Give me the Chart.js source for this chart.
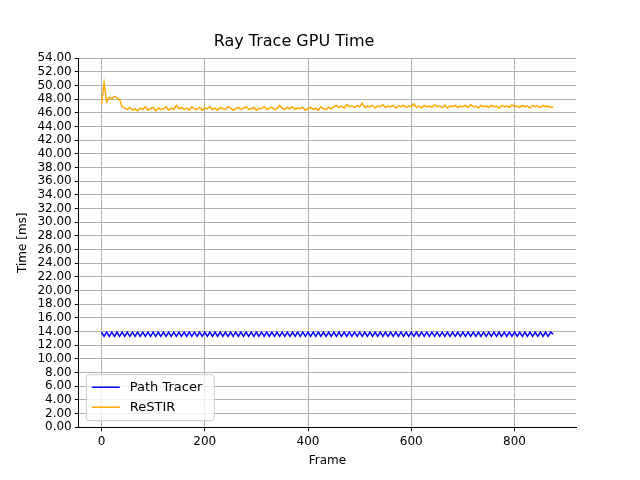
<!DOCTYPE html>
<html><head><meta charset="utf-8">
<script src="https://cdn.jsdelivr.net/npm/chart.js@4/dist/chart.umd.min.js"></script>
<style>html,body{margin:0;background:#fff}#wrap{width:640px;height:480px}</style>
</head><body><div id="wrap"><canvas id="c" width="640" height="480"></canvas></div>
<script>
// frames sampled every 5
const frames = Array.from({length: 176}, (_, i) => i * 5);
const pathTracer = [
13.9,13.3,13.9,13.3,13.9,13.3,13.9,13.3,13.9,13.3,13.9,13.3,13.9,13.3,13.9,13.3,13.9,13.3,13.9,13.3,
13.9,13.3,13.9,13.3,13.9,13.3,13.9,13.3,13.9,13.3,13.9,13.3,13.9,13.3,13.9,13.3,13.9,13.3,13.9,13.3,
13.9,13.3,13.9,13.3,13.9,13.3,13.9,13.3,13.9,13.3,13.9,13.3,13.9,13.3,13.9,13.3,13.9,13.3,13.9,13.3,
13.9,13.3,13.9,13.3,13.9,13.3,13.9,13.3,13.9,13.3,13.9,13.3,13.9,13.3,13.9,13.3,13.9,13.3,13.9,13.3,
13.9,13.3,13.9,13.3,13.9,13.3,13.9,13.3,13.9,13.3,13.9,13.3,13.9,13.3,13.9,13.3,13.9,13.3,13.9,13.3,
13.9,13.3,13.9,13.3,13.9,13.3,13.9,13.3,13.9,13.3,13.9,13.3,13.9,13.3,13.9,13.3,13.9,13.3,13.9,13.3,
13.9,13.3,13.9,13.3,13.9,13.3,13.9,13.3,13.9,13.3,13.9,13.3,13.9,13.3,13.9,13.3,13.9,13.3,13.9,13.3,
13.9,13.3,13.9,13.3,13.9,13.3,13.9,13.3,13.9,13.3,13.9,13.3,13.9,13.3,13.9,13.3,13.9,13.3,13.9,13.3,
13.9,13.3,13.9,13.3,13.9,13.3,13.9,13.3,13.9,13.3,13.9,13.3,13.9,13.3,13.9,13.6
];
const restir = [
47.3,50.4,47.6,48.3,48.1,48.4,48.2,48.0,
46.9,46.7,46.5,46.8,46.4,46.6,46.3,46.7,46.5,46.9,46.4,46.6,46.8,46.3,46.7,46.5,46.6,46.9,46.4,46.7,46.5,47.1,
46.6,46.8,46.5,46.7,46.4,46.9,46.6,46.5,46.8,46.4,46.7,46.6,46.9,46.5,46.7,46.4,46.8,46.6,46.5,46.9,
46.7,46.4,46.6,46.8,46.5,46.7,46.9,46.5,46.6,46.8,46.4,46.7,46.6,46.9,46.5,46.7,46.8,46.5,46.6,47.1,
46.7,46.5,46.8,46.6,46.9,46.5,46.7,46.6,46.8,46.4,46.6,46.8,46.5,46.7,46.4,46.9,46.6,46.5,46.8,46.6,
46.9,47.1,46.8,47.0,46.7,47.2,46.9,47.0,46.8,47.1,46.9,47.4,46.8,47.0,46.9,47.1,46.7,47.0,46.9,47.2,
46.8,47.0,46.9,47.1,46.7,47.0,46.9,47.1,46.8,47.0,46.9,47.3,46.8,47.0,46.7,47.1,46.9,47.0,46.8,47.2,
46.9,47.0,46.8,47.1,46.7,47.0,46.9,47.1,46.8,47.0,46.9,47.1,46.8,47.2,46.9,47.0,46.7,47.1,46.9,47.0,
46.8,47.1,46.9,47.0,46.7,47.1,46.9,47.0,46.8,47.2,46.9,47.0,46.8,47.1,46.9,47.0,46.7,47.1,46.9,47.0,
46.8,47.1,46.9,47.0,46.8,46.9
];
const seriesNames = ['Path Tracer', 'ReSTIR'];
const seriesColors = ['#0000ff', '#ffa500'];
const xTicks = [0, 200, 400, 600, 800];

const font = {family: 'DejaVu Sans', size: 12};
const legendBox = {
  id: 'legendBox',
  afterDraw(chart) {
    const ctx = chart.ctx, a = chart.chartArea;
    const x = a.left + 7, y = a.bottom - 53, w = 128, h = 46;
    ctx.save();
    ctx.fillStyle = 'rgba(255,255,255,0.8)';
    ctx.strokeStyle = '#cccccc';
    ctx.lineWidth = 1;
    ctx.beginPath(); ctx.roundRect(x + 0.5, y + 0.5, w, h, 3); ctx.fill(); ctx.stroke();
    ctx.font = '13px "DejaVu Sans"';
    ctx.textBaseline = 'middle';
    seriesNames.forEach((n, i) => {
      const yy = y + 13 + i * 20;
      ctx.strokeStyle = seriesColors[i]; ctx.lineWidth = 1.5;
      ctx.beginPath(); ctx.moveTo(x + 6, yy); ctx.lineTo(x + 34, yy); ctx.stroke();
      ctx.fillStyle = '#000'; ctx.fillText(n, x + 44, yy);
    });
    ctx.restore();
  }
};

new Chart(document.getElementById('c'), {
  type: 'line',
  data: {
    datasets: [
      {label: seriesNames[0], data: frames.map((f, i) => ({x: f, y: pathTracer[i]})), borderColor: seriesColors[0], borderWidth: 1.5, pointRadius: 0},
      {label: seriesNames[1], data: frames.map((f, i) => ({x: f, y: restir[i]})), borderColor: seriesColors[1], borderWidth: 1.5, pointRadius: 0}
    ]
  },
  options: {
    responsive: false, animation: false,
    layout: {padding: {left: 12, right: 64, top: 0, bottom: 8}},
    plugins: {
      legend: {display: false},
      tooltip: {enabled: false},
      title: {display: true, text: 'Ray Trace GPU Time', color: '#000', font: {family: 'DejaVu Sans', size: 16, weight: 'normal'}, padding: {top: 32, bottom: 7}}
    },
    scales: {
      x: {
        type: 'linear', min: -44, max: 919,
        afterBuildTicks: s => { s.ticks = xTicks.map(v => ({value: v})); },
        title: {display: true, text: 'Frame', color: '#000', font, padding: {top: 2}},
        ticks: {color: '#000', font, maxRotation: 0},
        grid: {color: '#b0b0b0', tickColor: '#000', tickLength: 4},
        border: {color: '#000'}
      },
      y: {
        min: 0, max: 54,
        title: {display: true, text: 'Time [ms]', color: '#000', font},
        ticks: {stepSize: 2, autoSkip: false, color: '#000', font, callback: v => v.toFixed(2)},
        grid: {color: '#b0b0b0', tickColor: '#000', tickLength: 4},
        border: {color: '#000'}
      }
    }
  },
  plugins: [legendBox]
});
</script></body></html>
